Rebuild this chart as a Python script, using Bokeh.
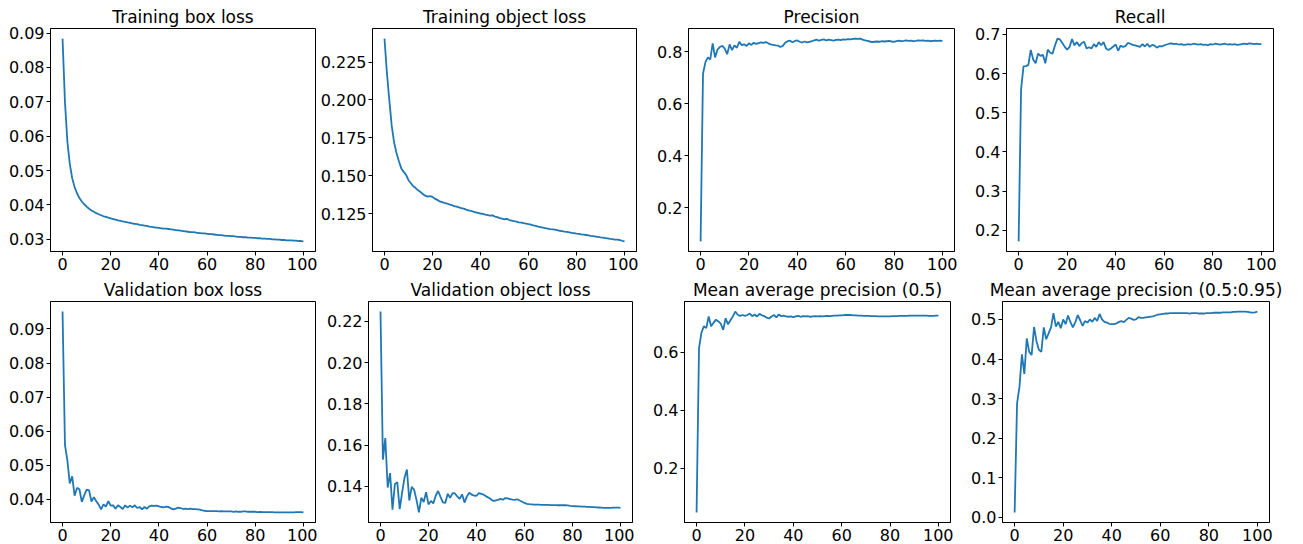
from bokeh.plotting import figure
from bokeh.layouts import column, row
from bokeh.models import Range1d, FixedTicker
from bokeh.embed import file_html
from bokeh.resources import INLINE

epochs = list(range(0, 101))

train_box_loss = [
    0.0884, 0.0700, 0.0585, 0.0520, 0.0478, 0.0452, 0.0434, 0.0420, 0.0410, 0.0402,
    0.0395, 0.0389, 0.0384, 0.0380, 0.0376, 0.0373, 0.0370, 0.0367, 0.0365, 0.0363,
    0.0361, 0.0359, 0.0357, 0.0355, 0.0354, 0.0352, 0.0351, 0.0349, 0.0348, 0.0346,
    0.0345, 0.0344, 0.0342, 0.0341, 0.0340, 0.0339, 0.0337, 0.0336, 0.0335, 0.0334,
    0.0333, 0.0332, 0.0331, 0.0331, 0.0330, 0.0329, 0.0328, 0.0327, 0.0326, 0.0325,
    0.0324, 0.0323, 0.0322, 0.0321, 0.0321, 0.0320, 0.0319, 0.0318, 0.0317, 0.0317,
    0.0316, 0.0315, 0.0315, 0.0314, 0.0313, 0.0312, 0.0312, 0.0311, 0.0310, 0.0310,
    0.0309, 0.0309, 0.0308, 0.0307, 0.0307, 0.0306, 0.0306, 0.0305, 0.0305, 0.0304,
    0.0304, 0.0303, 0.0303, 0.0302, 0.0302, 0.0301, 0.0301, 0.0300, 0.0300, 0.0299,
    0.0299, 0.0298, 0.0298, 0.0297, 0.0297, 0.0297, 0.0296, 0.0296, 0.0295, 0.0295,
    0.0294,
]

train_obj_loss = [
    0.2405, 0.2180, 0.2000, 0.1830, 0.1720, 0.1650, 0.1595, 0.1548, 0.1525, 0.1505,
    0.1470, 0.1450, 0.1430, 0.1418, 0.1403, 0.1392, 0.1378, 0.1368, 0.1362, 0.1365,
    0.1360, 0.1348, 0.1340, 0.1330, 0.1325, 0.1320, 0.1316, 0.1310, 0.1306, 0.1298,
    0.1295, 0.1290, 0.1285, 0.1282, 0.1276, 0.1271, 0.1268, 0.1262, 0.1258, 0.1254,
    0.1250, 0.1248, 0.1243, 0.1240, 0.1236, 0.1238, 0.1230, 0.1226, 0.1220, 0.1216,
    0.1212, 0.1215, 0.1207, 0.1203, 0.1199, 0.1196, 0.1192, 0.1190, 0.1186, 0.1183,
    0.1180, 0.1177, 0.1172, 0.1168, 0.1163, 0.1160, 0.1157, 0.1153, 0.1150, 0.1147,
    0.1145, 0.1143, 0.1140, 0.1136, 0.1134, 0.1131, 0.1129, 0.1126, 0.1122, 0.1120,
    0.1117, 0.1115, 0.1112, 0.1110, 0.1108, 0.1105, 0.1102, 0.1100, 0.1098, 0.1095,
    0.1092, 0.1090, 0.1088, 0.1086, 0.1083, 0.1081, 0.1078, 0.1077, 0.1075, 0.1070,
    0.1066,
]

precision = [
    0.071, 0.715, 0.760, 0.778, 0.770, 0.832, 0.778, 0.808, 0.818, 0.822,
    0.812, 0.790, 0.828, 0.806, 0.824, 0.815, 0.838, 0.825, 0.828, 0.822,
    0.832, 0.826, 0.834, 0.830, 0.833, 0.836, 0.834, 0.837, 0.832, 0.828,
    0.826, 0.824, 0.823, 0.818, 0.822, 0.834, 0.840, 0.842, 0.836, 0.841,
    0.843, 0.838, 0.835, 0.839, 0.836, 0.838, 0.840, 0.843, 0.846, 0.842,
    0.845, 0.847, 0.843, 0.846, 0.844, 0.842, 0.845, 0.846, 0.844, 0.847,
    0.846, 0.848, 0.847, 0.849, 0.850, 0.849, 0.850, 0.846, 0.843, 0.841,
    0.839, 0.837, 0.838, 0.839, 0.838, 0.840, 0.839, 0.840, 0.841, 0.839,
    0.838, 0.840, 0.842, 0.840, 0.841, 0.843, 0.841, 0.842, 0.840, 0.841,
    0.843, 0.842, 0.843, 0.841, 0.842, 0.840, 0.841, 0.842, 0.841, 0.842,
    0.841,
]

recall = [
    0.172, 0.559, 0.618, 0.619, 0.622, 0.660, 0.636, 0.626, 0.651, 0.645,
    0.648, 0.626, 0.661, 0.653, 0.651, 0.672, 0.689, 0.687, 0.678, 0.668,
    0.661, 0.668, 0.688, 0.672, 0.680, 0.670, 0.678, 0.681, 0.664, 0.667,
    0.664, 0.675, 0.668, 0.680, 0.672, 0.680, 0.664, 0.660, 0.664, 0.669,
    0.674, 0.658, 0.671, 0.668, 0.670, 0.678, 0.676, 0.673, 0.672, 0.670,
    0.668, 0.675, 0.669, 0.676, 0.668, 0.673, 0.671, 0.666, 0.670, 0.669,
    0.672, 0.674, 0.676, 0.677, 0.675, 0.676, 0.674, 0.675, 0.673, 0.674,
    0.675, 0.674, 0.676, 0.675, 0.674, 0.675, 0.673, 0.674, 0.672, 0.675,
    0.674, 0.676, 0.675, 0.674, 0.675, 0.676, 0.674, 0.675, 0.674, 0.675,
    0.673, 0.674, 0.675, 0.676, 0.675, 0.677, 0.676, 0.675, 0.676, 0.675,
    0.675,
]

val_box_loss = [
    0.0951, 0.0560, 0.0515, 0.0447, 0.0468, 0.0411, 0.0434, 0.0430, 0.0393, 0.0412,
    0.0429, 0.0427, 0.0394, 0.0407, 0.0395, 0.0385, 0.0371, 0.0386, 0.0379, 0.0395,
    0.0382, 0.0383, 0.0373, 0.0383, 0.0378, 0.0372, 0.0383, 0.0376, 0.0382, 0.0377,
    0.0383, 0.0375, 0.0378, 0.0371, 0.0378, 0.0373, 0.0380, 0.0382, 0.0381, 0.0382,
    0.0380, 0.0378, 0.0377, 0.0379, 0.0378, 0.0374, 0.0371, 0.0373, 0.0376, 0.0375,
    0.0372, 0.0373, 0.0372, 0.0373, 0.0372, 0.0372, 0.0371, 0.0370, 0.0368, 0.0367,
    0.0366, 0.0366, 0.0366, 0.0366, 0.0366, 0.0365, 0.0366, 0.0365, 0.0365, 0.0365,
    0.0365, 0.0364, 0.0365, 0.0364, 0.0364, 0.0365, 0.0365, 0.0364, 0.0364, 0.0364,
    0.0364, 0.0363, 0.0364, 0.0363, 0.0363, 0.0363, 0.0363, 0.0363, 0.0362, 0.0362,
    0.0362, 0.0362, 0.0362, 0.0362, 0.0362, 0.0362, 0.0362, 0.0363, 0.0363, 0.0363,
    0.0362,
]

val_obj_loss = [
    0.2248, 0.1530, 0.1635, 0.1395, 0.1465, 0.1287, 0.1412, 0.1420, 0.1290, 0.1370,
    0.1442, 0.1482, 0.1332, 0.1398, 0.1384, 0.1335, 0.1274, 0.1345, 0.1325, 0.1372,
    0.1313, 0.1330, 0.1318, 0.1355, 0.1378, 0.1350, 0.1323, 0.1320, 0.1365, 0.1345,
    0.1368, 0.1366, 0.1352, 0.1340, 0.1362, 0.1322, 0.1352, 0.1370, 0.1360, 0.1356,
    0.1355, 0.1368, 0.1364, 0.1360, 0.1352, 0.1346, 0.1338, 0.1330, 0.1332, 0.1335,
    0.1340, 0.1336, 0.1344, 0.1342, 0.1339, 0.1336, 0.1335, 0.1338, 0.1332, 0.1326,
    0.1320, 0.1316, 0.1314, 0.1313, 0.1312, 0.1312, 0.1312, 0.1311, 0.1311, 0.1311,
    0.1311, 0.1310, 0.1310, 0.1310, 0.1309, 0.1309, 0.1309, 0.1309, 0.1308, 0.1306,
    0.1305, 0.1304, 0.1303, 0.1303, 0.1302, 0.1302, 0.1301, 0.1301, 0.1300, 0.1300,
    0.1299, 0.1298, 0.1297, 0.1296, 0.1296, 0.1296, 0.1296, 0.1297, 0.1297, 0.1297,
    0.1296,
]

map_50 = [
    0.048, 0.615, 0.668, 0.690, 0.684, 0.724, 0.690, 0.702, 0.713, 0.707,
    0.699, 0.678, 0.718, 0.697, 0.711, 0.724, 0.741, 0.730, 0.726, 0.729,
    0.726, 0.729, 0.734, 0.725, 0.731, 0.724, 0.733, 0.728, 0.725, 0.720,
    0.717, 0.724, 0.729, 0.721, 0.731, 0.725, 0.727, 0.724, 0.723, 0.724,
    0.722, 0.724, 0.726, 0.723, 0.725, 0.724, 0.725, 0.723, 0.724, 0.725,
    0.724, 0.725, 0.724, 0.725, 0.726, 0.725, 0.726, 0.727, 0.727, 0.728,
    0.728, 0.729, 0.729, 0.729, 0.729, 0.728, 0.728, 0.727, 0.727, 0.726,
    0.726, 0.726, 0.725, 0.725, 0.725, 0.724, 0.724, 0.724, 0.724, 0.724,
    0.724, 0.725, 0.725, 0.725, 0.726, 0.726, 0.726, 0.726, 0.727, 0.727,
    0.727, 0.727, 0.727, 0.727, 0.727, 0.727, 0.726, 0.726, 0.726, 0.727,
    0.727,
]

map_50_95 = [
    0.012, 0.288, 0.330, 0.412, 0.362, 0.452, 0.418, 0.410, 0.481, 0.445,
    0.423, 0.418, 0.480, 0.450, 0.465, 0.480, 0.516, 0.482, 0.494, 0.478,
    0.500, 0.488, 0.510, 0.493, 0.480, 0.493, 0.511, 0.498, 0.484, 0.496,
    0.492, 0.500, 0.494, 0.504, 0.496, 0.514, 0.500, 0.494, 0.492, 0.489,
    0.488, 0.488, 0.490, 0.494, 0.496, 0.493, 0.499, 0.504, 0.502, 0.499,
    0.500, 0.506, 0.504, 0.504, 0.505, 0.506, 0.507, 0.508, 0.510, 0.512,
    0.513, 0.514, 0.515, 0.515, 0.516, 0.516, 0.516, 0.516, 0.516, 0.516,
    0.516, 0.516, 0.515, 0.516, 0.516, 0.516, 0.515, 0.515, 0.515, 0.516,
    0.516, 0.516, 0.517, 0.517, 0.517, 0.517, 0.518, 0.518, 0.518, 0.518,
    0.519, 0.519, 0.520, 0.520, 0.520, 0.520, 0.519, 0.518, 0.517, 0.518,
    0.520,
]

titles = [
    "Training box loss", "Training object loss", "Precision", "Recall",
    "Validation box loss", "Validation object loss",
    "Mean average precision (0.5)", "Mean average precision (0.5:0.95)",
]

x_ticks = [0, 20, 40, 60, 80, 100]
x_tick_labels = ["0", "20", "40", "60", "80", "100"]

y_ticks = [
    [0.03, 0.04, 0.05, 0.06, 0.07, 0.08, 0.09],
    [0.125, 0.150, 0.175, 0.200, 0.225],
    [0.2, 0.4, 0.6, 0.8],
    [0.2, 0.3, 0.4, 0.5, 0.6, 0.7],
    [0.04, 0.05, 0.06, 0.07, 0.08, 0.09],
    [0.14, 0.16, 0.18, 0.20, 0.22],
    [0.2, 0.4, 0.6],
    [0.0, 0.1, 0.2, 0.3, 0.4, 0.5],
]
y_tick_labels = [
    ["0.03", "0.04", "0.05", "0.06", "0.07", "0.08", "0.09"],
    ["0.125", "0.150", "0.175", "0.200", "0.225"],
    ["0.2", "0.4", "0.6", "0.8"],
    ["0.2", "0.3", "0.4", "0.5", "0.6", "0.7"],
    ["0.04", "0.05", "0.06", "0.07", "0.08", "0.09"],
    ["0.14", "0.16", "0.18", "0.20", "0.22"],
    ["0.2", "0.4", "0.6"],
    ["0.0", "0.1", "0.2", "0.3", "0.4", "0.5"],
]

series = [train_box_loss, train_obj_loss, precision, recall,
          val_box_loss, val_obj_loss, map_50, map_50_95]

# layout (per column): left border, frame width, right border
left_borders = [50, 51, 50, 49]
frame_widths = [265, 264, 266, 267]
right_borders = [2, 2, 3, 30]
# layout (per row): top border, frame height, bottom border
top_borders = [28, 21]
frame_heights = [223, 221]
bottom_borders = [25, 25]

FONT = "DejaVu Sans"


def make_panel(i):
    ys = series[i]
    col = i % 4
    r = i // 4
    lo, hi = min(ys), max(ys)
    pad = (hi - lo) * 0.05
    p = figure(
        frame_width=frame_widths[col], frame_height=frame_heights[r],
        min_border_left=left_borders[col], min_border_right=right_borders[col],
        min_border_top=top_borders[r], min_border_bottom=bottom_borders[r],
        x_range=Range1d(-5, 105), y_range=Range1d(lo - pad, hi + pad),
        output_backend="svg", toolbar_location=None, title=titles[i],
    )
    p.line(epochs, ys, line_color="#1f77b4", line_width=1.8)

    p.title.align = "center"
    p.title.text_font = FONT
    p.title.text_font_size = "17px"
    p.title.text_font_style = "normal"
    p.title.text_color = "black"
    p.title.standoff = 3

    p.xaxis.ticker = FixedTicker(ticks=x_ticks)
    p.xaxis.major_label_overrides = {t: l for t, l in zip(x_ticks, x_tick_labels)}
    p.yaxis.ticker = FixedTicker(ticks=y_ticks[i])
    p.yaxis.major_label_overrides = {t: l for t, l in zip(y_ticks[i], y_tick_labels[i])}
    for ax in p.axis:
        ax.major_label_text_font = FONT
        ax.major_label_text_font_size = "16px"
        ax.major_label_text_color = "black"
        ax.major_tick_out = 4
        ax.major_tick_in = 0
        ax.major_tick_line_color = "black"
        ax.minor_tick_line_color = None
        ax.axis_line_color = "black"
        ax.major_label_standoff = 2

    p.xgrid.grid_line_color = None
    p.ygrid.grid_line_color = None
    p.outline_line_color = "black"
    p.outline_line_alpha = 1.0
    p.outline_line_width = 1
    p.background_fill_color = "white"
    p.border_fill_color = "white"
    return p


panels = [make_panel(i) for i in range(8)]
layout = column(row(*panels[:4], spacing=0), row(*panels[4:], spacing=0), spacing=0)

open("out.html", "w").write(file_html(layout, INLINE))
